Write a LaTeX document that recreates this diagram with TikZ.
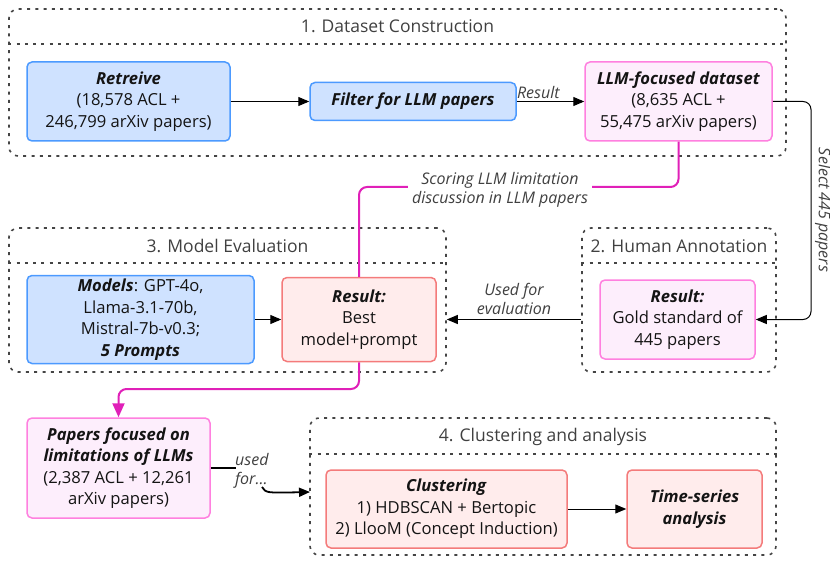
\documentclass[tikz,border=0pt]{standalone}
\usepackage{fontspec}
\setmainfont{Open Sans}
\usetikzlibrary{arrows.meta}
\definecolor{bluefill}{HTML}{CFE2FF}
\definecolor{blueline}{HTML}{4C9AFF}
\definecolor{pinkfill}{HTML}{FDEEFC}
\definecolor{pinkline}{HTML}{FF80DF}
\definecolor{redfill}{HTML}{FFECEC}
\definecolor{redline}{HTML}{F47B7B}
\definecolor{magline}{HTML}{E020B8}
\definecolor{grpline}{HTML}{444444}
\newcommand{\bi}[1]{\textbf{\textit{#1}}}
\begin{document}
\begin{tikzpicture}[x=1pt,y=-1pt,
  font=\fontsize{16.6}{21.5}\selectfont,
  box/.style={draw, line width=1.5pt, rounded corners=5pt, align=center, inner sep=0pt, text=black!92},
  bluebox/.style={box, fill=bluefill, draw=blueline},
  pinkbox/.style={box, fill=pinkfill, draw=pinkline},
  redbox/.style={box, fill=redfill, draw=redline},
  grp/.style={draw=grpline, line width=1.6pt, dash pattern=on 3pt off 5.3pt, rounded corners=9pt, inner sep=0pt},
  sepline/.style={draw=grpline, line width=1.6pt, dash pattern=on 3pt off 5.3pt},
  gtitle/.style={font=\fontsize{17.5}{20}\selectfont, text=black!75},
  arr/.style={-{Triangle[length=11pt,width=9pt]}, line width=1pt},
  magarr/.style={draw=magline, line width=2pt, rounded corners=8pt},
  lbl/.style={font=\fontsize{16}{19}\selectfont\itshape, text=black!75, align=center, inner sep=1pt},
]
\useasboundingbox (0,0) rectangle (830,564);

% groups
\node[grp, minimum width=777pt, minimum height=147pt] (g1) at (397.5,82.5) {};
\draw[sepline] (g1.west |- 0,44) -- (g1.east |- 0,44);
\node[gtitle] (t1) at (397.5,26) {1. Dataset Construction};

\node[grp, minimum width=437pt, minimum height=144pt] (g3) at (227.5,300) {};
\draw[sepline] (g3.west |- 0,263) -- (g3.east |- 0,263);
\node[gtitle] (t3) at (227.5,246) {3. Model Evaluation};

\node[grp, minimum width=194pt, minimum height=144pt] (g2) at (679,300) {};
\draw[sepline] (g2.west |- 0,263) -- (g2.east |- 0,263);
\node[gtitle] (t2) at (679,246) {2. Human Annotation};

\node[grp, minimum width=466pt, minimum height=137pt] (g4) at (543,486.5) {};
\draw[sepline] (g4.west |- 0,454) -- (g4.east |- 0,454);
\node[gtitle] (t4) at (543,437) {4. Clustering and analysis};

% boxes
\node[bluebox, minimum width=203pt, minimum height=79pt] (ret) at (128.5,101.5)
  {\bi{Retreive}\\(18,578 ACL +\\246,799 arXiv papers)};
\node[bluebox, minimum width=206pt, minimum height=38pt] (filt) at (413,101.5)
  {\bi{Filter for LLM papers}};
\node[pinkbox, minimum width=187pt, minimum height=79pt] (llm) at (678.5,101.5)
  {\bi{LLM-focused dataset}\\(8,635 ACL +\\55,475 arXiv papers)};
\node[bluebox, minimum width=227pt, minimum height=88pt] (models) at (140.5,319.5)
  {\bi{Models}: GPT-4o,\\Llama-3.1-70b,\\Mistral-7b-v0.3;\\\bi{5 Prompts}};
\node[redbox, minimum width=154pt, minimum height=84pt] (best) at (359,319.5)
  {\bi{Result:}\\Best\\model+prompt};
\node[pinkbox, minimum width=155pt, minimum height=79pt] (gold) at (677.5,319.5)
  {\bi{Result:}\\Gold standard of\\445 papers};
\node[pinkbox, minimum width=183pt, minimum height=100pt] (papers) at (118.5,468)
  {\bi{Papers focused on}\\\bi{limitations of LLMs}\\(2,387 ACL + 12,261\\arXiv papers)};
\node[redbox, minimum width=241pt, minimum height=78pt] (clus) at (446.5,509)
  {\bi{Clustering}\\1) HDBSCAN + Bertopic\\2) LlooM (Concept Induction)};
\node[redbox, minimum width=135pt, minimum height=78pt] (time) at (694.5,509)
  {\bi{Time-series}\\\bi{analysis}};

% connectors
\draw[arr] (ret) -- (filt);
\draw[arr] (filt) -- node[lbl, above, yshift=1pt, pos=0.32] {Result} (llm.west |- filt);
\draw[arr] (models.east |- best) -- (best);
\draw[arr] (g2.west |- best) -- node[lbl, above, yshift=3pt] {Used for\\evaluation} (g3.east |- best);
\draw[arr] (clus) -- (time);

\draw[arr, rounded corners=8pt] (llm.east) -- (811,101.5) -- (811,319.5) -- (gold.east);
\node[lbl, rotate=-90] (sel) at (823,210) {Select 445 papers};

\draw[magarr] (llm.south) -- (llm.south |- 0,187) -- (best.north |- 0,187) -- (best.north);
\node[lbl, fill=white, inner xsep=4pt] (score) at (500,190) {Scoring LLM limitation\\discussion in LLM papers};

\draw[magarr, -{Triangle[length=14pt,width=12pt]}] (best.south) -- (best.south |- 0,389) -- (papers.north |- 0,389) -- (papers.north);

\node[lbl, align=left, anchor=west] (uf) at (234,471) {used\\for...};
\coordinate (ufa) at (236,468);
\coordinate (ufb) at (262,487);
\coordinate (ufc) at (310,492);
\draw[line width=2pt] (papers.east |- ufa) -- (ufa);
\draw[arr, line width=1.8pt] (ufb) .. controls (266,493) .. (ufc);
\end{tikzpicture}
\end{document}
